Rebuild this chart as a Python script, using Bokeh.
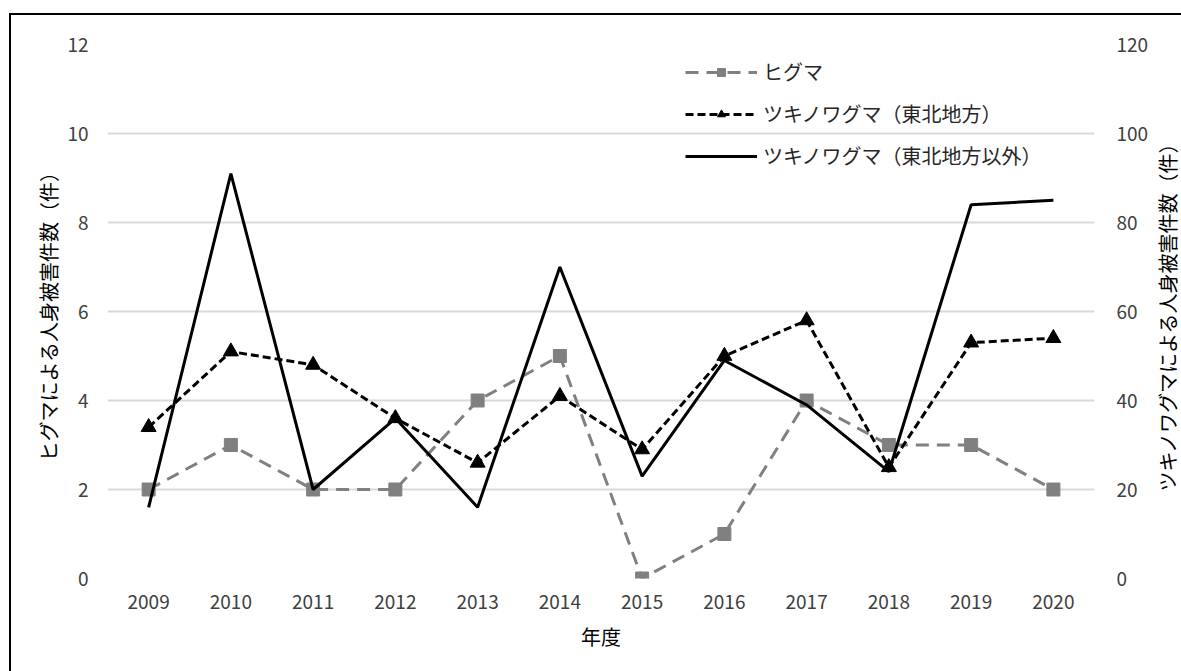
import math

from bokeh.plotting import figure
from bokeh.layouts import row
from bokeh.models import (Range1d, LinearAxis, FixedTicker, Legend, LegendItem,
                          ColumnDataSource)
from bokeh.core.properties import value
from bokeh.embed import file_html
from bokeh.resources import INLINE

# Fiscal years and bear-attack injury counts
years = [2009, 2010, 2011, 2012, 2013, 2014, 2015, 2016, 2017, 2018, 2019, 2020]
higuma = [2, 3, 2, 2, 4, 5, 0, 1, 4, 3, 3, 2]                      # left axis
tsuki_tohoku = [34, 51, 48, 36, 26, 41, 29, 50, 58, 25, 53, 54]    # right axis
tsuki_other = [16, 91, 20, 36, 16, 70, 23, 49, 39, 24, 84, 85]     # right axis

left_ticks = [0, 2, 4, 6, 8, 10, 12]
right_ticks = [0, 20, 40, 60, 80, 100, 120]

series_names = ["ヒグマ", "ツキノワグマ（東北地方）", "ツキノワグマ（東北地方以外）"]
x_title = "年度"
left_title = "ヒグマによる人身被害件数（件）"
right_title = "ツキノワグマによる人身被害件数（件）"

FONT = "Noto Sans CJK JP"
HEIGHT = 656
BORDER_TOP, BORDER_BOTTOM = 29, 93

p = figure(width=1141, height=HEIGHT, output_backend="svg", toolbar_location=None,
           x_range=Range1d(2008.5, 2020.5), y_range=Range1d(0, 12),
           min_border_left=96, min_border_right=58,
           min_border_top=BORDER_TOP, min_border_bottom=BORDER_BOTTOM)
p.extra_y_ranges = {"right": Range1d(0, 120)}
p.outline_line_color = None
p.background_fill_color = "white"
p.border_fill_color = "white"

p.xgrid.visible = False
p.ygrid.grid_line_color = "#d9d9d9"
p.ygrid.grid_line_width = 2

src = ColumnDataSource(dict(year=years, higuma=higuma,
                            tohoku=tsuki_tohoku, other=tsuki_other))

# ヒグマ: grey dashed line with square markers (left axis)
gray = "#808080"
r_h_line = p.line("year", "higuma", source=src, line_color=gray, line_width=3,
                  line_dash="13 8")
r_h_pts = p.scatter("year", "higuma", source=src, marker="square", size=13,
                    fill_color=gray, line_color=gray)

# ツキノワグマ（東北地方）: black dashed line with triangles (right axis)
r_t_line = p.line("year", "tohoku", source=src, line_color="black", line_width=3,
                  line_dash="8 4", y_range_name="right")
r_t_pts = p.scatter("year", "tohoku", source=src, marker="triangle", size=15,
                    fill_color="black", line_color="black", y_range_name="right")

# ツキノワグマ（東北地方以外）: solid black line (right axis)
r_o_line = p.line("year", "other", source=src, line_color="black", line_width=3,
                  y_range_name="right")

label_color = "#404040"

xa = p.xaxis[0]
xa.ticker = FixedTicker(ticks=years)
xa.axis_label = x_title
ya = p.yaxis[0]
ya.ticker = FixedTicker(ticks=left_ticks)
ya.axis_label = left_title

ra = LinearAxis(y_range_name="right", ticker=FixedTicker(ticks=right_ticks))
p.add_layout(ra, "right")

for ax in (xa, ya, ra):
    ax.axis_line_color = None
    ax.major_tick_line_color = None
    ax.minor_tick_line_color = None
    ax.major_label_text_font = FONT
    ax.major_label_text_font_size = "19px"
    ax.major_label_text_color = label_color
    ax.axis_label_text_font = FONT
    ax.axis_label_text_font_size = "20px"
    ax.axis_label_text_font_style = "normal"
    ax.axis_label_text_color = "black"

xa.major_label_standoff = 10
xa.axis_label_standoff = 10
ya.major_label_standoff = 13
ya.axis_label_standoff = 1
ra.major_label_standoff = 16

legend = Legend(items=[
    LegendItem(label=series_names[0], renderers=[r_h_line, r_h_pts]),
    LegendItem(label=series_names[1], renderers=[r_t_line, r_t_pts]),
    LegendItem(label=series_names[2], renderers=[r_o_line]),
], location=(578, 408), orientation="vertical",
    background_fill_alpha=0, border_line_alpha=0, padding=0, margin=0,
    spacing=13, glyph_width=72, glyph_height=20, label_height=20,
    label_standoff=6, label_text_font=FONT, label_text_font_size="20px",
    label_text_color="#262626")
p.add_layout(legend)

# narrow strip on the right for the secondary-axis title (reads bottom-to-top),
# sharing the main plot's vertical layout so the title sits at mid-height
side = figure(width=29, height=HEIGHT, output_backend="svg", toolbar_location=None,
              x_range=Range1d(0, 1), y_range=Range1d(0, 12),
              x_axis_type=None, y_axis_type=None,
              min_border_left=0, min_border_right=0,
              min_border_top=BORDER_TOP, min_border_bottom=BORDER_BOTTOM)
side.outline_line_color = None
side.xgrid.visible = False
side.ygrid.visible = False
side.text(x=[0.5], y=[6], text=[right_title], angle=math.pi / 2,
          text_align="center", text_baseline="middle",
          text_font=value(FONT), text_font_size="20px", text_color="black")

page = row(p, side, spacing=0)
page.styles = {"border-left": "2px solid #000", "border-top": "2px solid #000"}
page.margin = (13, 0, 0, 9)

open("out.html", "w").write(file_html(page, INLINE))
